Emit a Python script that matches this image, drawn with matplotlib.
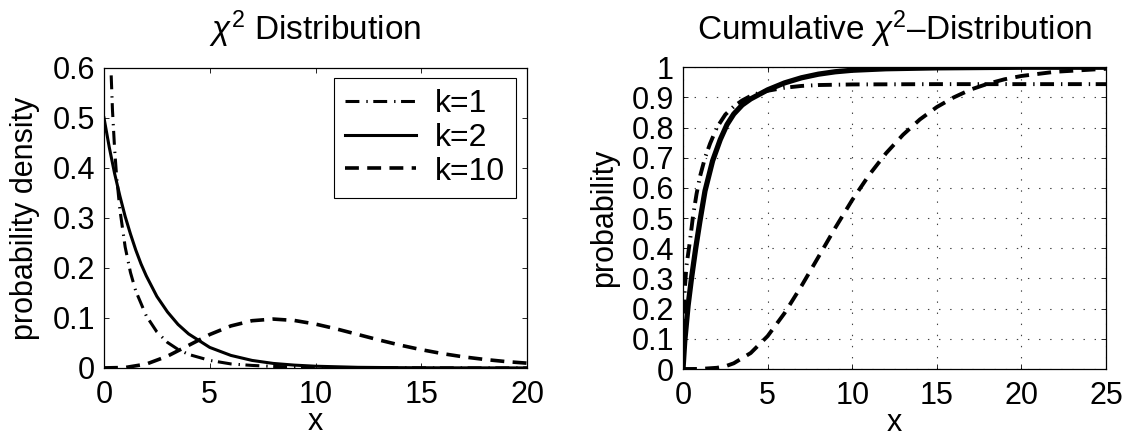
import matplotlib
matplotlib.use("Agg")
import matplotlib.pyplot as plt

plt.rcParams['font.family'] = ['Liberation Sans', 'DejaVu Sans']
plt.rcParams['mathtext.fontset'] = 'custom'
plt.rcParams['mathtext.rm'] = 'Liberation Sans'
plt.rcParams['mathtext.it'] = 'Liberation Sans:italic'
plt.rcParams['lines.scale_dashes'] = False

FS_TICK = 22
FS_LABEL = 22
FS_TITLE = 24
FS_LEG = 23

# density values
x_pdf1 = [0.34, 0.4, 0.5, 0.6, 0.75, 1.0, 1.25, 1.5, 2.0, 2.5, 3.0, 3.5, 4.0, 5.0, 6.0, 7.0, 8.0, 10.0, 12.0, 15.0, 20.0]
pdf_k1 = [0.585, 0.516, 0.439, 0.381, 0.317, 0.242, 0.191, 0.154, 0.104, 0.072, 0.051, 0.037, 0.027, 0.015, 0.008, 0.005, 0.003, 0.001, 0.0003, 0.0001, 0.0]

x_pdf2 = [0, 0.25, 0.5, 0.75, 1.0, 1.25, 1.5, 1.75, 2.0, 2.5, 3.0, 3.5, 4.0, 5.0, 6.0, 7.0, 8.0, 9.0, 10.0, 12.0, 14.0, 16.0, 18.0, 20.0]
pdf_k2 = [0.5, 0.441, 0.389, 0.344, 0.303, 0.268, 0.236, 0.208, 0.184, 0.143, 0.112, 0.087, 0.068, 0.041, 0.025, 0.015, 0.009, 0.0056, 0.0034, 0.0012, 0.0005, 0.0002, 0.0001, 0.0]

x_pdf10 = [0, 1, 2, 3, 4, 5, 6, 7, 8, 9, 10, 11, 12, 13, 14, 15, 16, 17, 18, 19, 20]
pdf_k10 = [0.0, 0.0008, 0.0077, 0.0235, 0.0451, 0.0668, 0.084, 0.0944, 0.0977, 0.0949, 0.0877, 0.0779, 0.0669, 0.0559, 0.0456, 0.0365, 0.0286, 0.0221, 0.0169, 0.0127, 0.0095]

# cumulative values
x_cdf1 = [0, 0.03, 0.1, 0.2, 0.4, 0.6, 0.8, 1.0, 1.3, 1.6, 2.0, 2.5, 3.0, 3.5, 4.0, 4.5, 5.0, 6.0, 7.0, 8.0, 10.0, 15.0, 20.0, 25.0]
cdf_k1 = [0, 0.15, 0.26, 0.34, 0.42, 0.51, 0.58, 0.637, 0.70, 0.747, 0.80, 0.843, 0.87, 0.89, 0.905, 0.915, 0.922, 0.932, 0.938, 0.941, 0.943, 0.944, 0.944, 0.944]

x_cdf2 = [0, 0.1, 0.3, 0.5, 0.75, 1.0, 1.3, 1.75, 2.2, 2.6, 3.0, 3.5, 4.0, 5.0, 6.0, 7.0, 8.0, 9.0, 10.0, 12.0, 15.0, 20.0, 25.0]
cdf_k2 = [0, 0.09, 0.21, 0.30, 0.40, 0.49, 0.59, 0.69, 0.76, 0.81, 0.845, 0.875, 0.895, 0.925, 0.948, 0.965, 0.977, 0.985, 0.99, 0.995, 0.998, 1.0, 1.0]

x_cdf10 = [0, 1, 2, 2.5, 3, 4, 5, 6, 7, 8, 9, 10, 11, 12, 13, 14, 15, 16, 17, 18, 19, 20, 22, 25]
cdf_k10 = [0, 0.0002, 0.004, 0.009, 0.019, 0.053, 0.109, 0.185, 0.275, 0.371, 0.468, 0.56, 0.643, 0.715, 0.776, 0.827, 0.868, 0.9, 0.926, 0.945, 0.96, 0.971, 0.985, 0.995]

labels = ['k=1', 'k=2', 'k=10']
pdf_ticks_y = [0, 0.1, 0.2, 0.3, 0.4, 0.5, 0.6]
pdf_ticks_x = [0, 5, 10, 15, 20]
cdf_ticks_y = [0, 0.1, 0.2, 0.3, 0.4, 0.5, 0.6, 0.7, 0.8, 0.9, 1]
cdf_ticks_x = [0, 5, 10, 15, 20, 25]

dashdot = (0, (10, 5, 1.0, 4))
dashed = (0, (10, 6))


def fmt(v):
    return '%g' % v


def style_axes(ax, xt, yt):
    ax.set_xticks(xt)
    ax.set_yticks(yt)
    ax.set_xticklabels([fmt(v) for v in xt])
    ax.set_yticklabels([fmt(v) for v in yt])
    ax.tick_params(direction='in', length=3.5, width=0.6, top=True, right=True,
                   labelsize=FS_TICK)
    ax.tick_params(axis='x', pad=8.5)
    ax.tick_params(axis='y', pad=6.5)
    for s in ax.spines.values():
        s.set_linewidth(0.9)


fig = plt.figure(figsize=(11.28, 4.38), dpi=100)
ax1 = fig.add_axes([0.0922, 0.160, 0.375, 0.685])
ax2 = fig.add_axes([0.6055, 0.1575, 0.375, 0.689])

# probability density
ax1.plot(x_pdf1, pdf_k1, color='k', lw=2.2, linestyle=dashdot, label=labels[0])
ax1.plot(x_pdf2, pdf_k2, color='k', lw=2.2, linestyle='-', label=labels[1])
ax1.plot(x_pdf10, pdf_k10, color='k', lw=2.6, linestyle=dashed, label=labels[2])
ax1.set_xlim(0, 20)
ax1.set_ylim(0, 0.6)
style_axes(ax1, pdf_ticks_x, pdf_ticks_y)
ax1.set_xlabel('x', fontsize=FS_LABEL, labelpad=-2)
ax1.set_ylabel('probability density', fontsize=FS_LABEL, labelpad=9)
ax1.text(0.5, 1.093, r'$\chi^2$ Distribution', transform=ax1.transAxes,
         ha='center', va='baseline', fontsize=FS_TITLE)
leg = ax1.legend(loc='upper right', bbox_to_anchor=(0.974, 0.967), borderaxespad=0,
                 fontsize=FS_LEG, handlelength=2.2, labelspacing=0.12, fancybox=False,
                 framealpha=1, edgecolor='k', borderpad=0.35, handletextpad=0.6)
leg.get_frame().set_linewidth(0.8)

# cumulative distribution
ax2.grid(True, color='0.25', linestyle=(0, (1, 7)), linewidth=0.8)
ax2.plot(x_cdf1, cdf_k1, color='k', lw=2.8, linestyle=dashdot)
ax2.plot(x_cdf2, cdf_k2, color='k', lw=3.8, linestyle='-')
ax2.plot(x_cdf10, cdf_k10, color='k', lw=2.8, linestyle=dashed)
ax2.set_xlim(0, 25)
ax2.set_ylim(0, 1)
style_axes(ax2, cdf_ticks_x, cdf_ticks_y)
ax2.set_xlabel('x', fontsize=FS_LABEL, labelpad=-2)
ax2.set_ylabel('probability', fontsize=FS_LABEL, labelpad=9)
ax2.text(0.5, 1.089, r'Cumulative $\chi^2$–Distribution', transform=ax2.transAxes,
         ha='center', va='baseline', fontsize=FS_TITLE)

fig.savefig('out.png', dpi=100)
